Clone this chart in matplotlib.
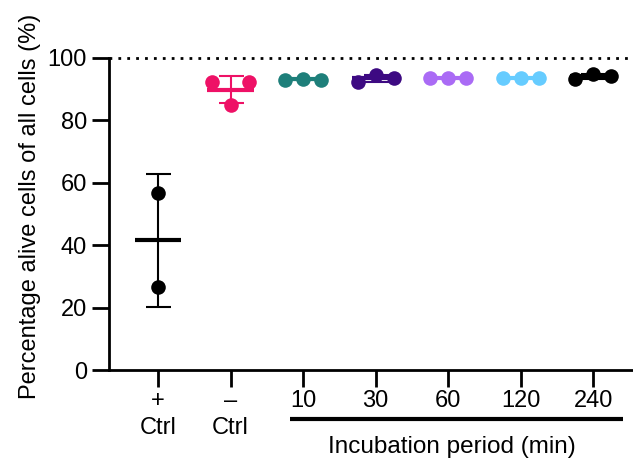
import numpy as np
import matplotlib
matplotlib.use("Agg")
import matplotlib.pyplot as plt
import matplotlib.transforms as mtransforms

plt.rcParams['font.family'] = ['Liberation Sans', 'DejaVu Sans']

# groups (x tick labels) and the individual replicate values (%)
groups = ["+\nCtrl", "\u2013\nCtrl", "10", "30", "60", "120", "240"]
values = [
    [56.7, 26.6],
    [92.4, 84.9, 92.4],
    [93.1, 93.2, 93.1],
    [92.4, 94.5, 93.5],
    [93.6, 93.6, 93.6],
    [93.5, 93.6, 93.6],
    [93.3, 94.8, 94.2],
]
colors = ["#000000", "#EE1166", "#1E7F7A", "#3D0A82", "#AA6BF5", "#66CCFF", "#000000"]

fig = plt.figure(figsize=(6.33, 4.62), dpi=100)
ax = fig.add_axes([0.1722, 0.199, 0.828, 0.6755])

for i, (vals, c) in enumerate(zip(values, colors)):
    vals = np.array(vals)
    n = len(vals)
    if n == 2:
        offs = np.zeros(n)
    else:
        offs = np.linspace(-0.25, 0.25, n)
    m = vals.mean()
    sd = vals.std(ddof=1)
    ax.errorbar(i, m, yerr=sd, color=c, capsize=9, elinewidth=1.5,
                capthick=1.5, fmt='none', zorder=2)
    ax.hlines(m, i - 0.32, i + 0.32, color=c, lw=3, zorder=2)
    ax.plot(i + offs, vals, 'o', color=c, ms=10.5, mec='none', zorder=3)

ax.axhline(100, color='black', ls=(0, (1, 2.2)), lw=2, zorder=1, clip_on=False)

ax.set_xlim(-0.676, 6.55)
ax.set_ylim(0, 100)
ax.set_yticks(range(0, 101, 20))
ax.set_xticks(range(len(groups)))
ax.set_xticklabels(groups, linespacing=1.3)
ax.tick_params(axis='both', direction='out', length=12, width=2, labelsize=17, pad=4)
ax.tick_params(axis='x', pad=2)
for s in ['top', 'right']:
    ax.spines[s].set_visible(False)
for s in ['left', 'bottom']:
    ax.spines[s].set_linewidth(2)

ax.set_ylabel("Percentage alive cells of all cells (%)", fontsize=17)
ax.yaxis.set_label_coords(-0.13, 0.525)

trans = mtransforms.blended_transform_factory(ax.transData, ax.transAxes)
ax.plot([1.82, 6.41], [-0.157, -0.157], color='black', lw=3, transform=trans,
        clip_on=False, solid_capstyle='butt')
ax.text(4.05, -0.245, "Incubation period (min)", transform=trans, ha='center',
        va='center', fontsize=17.5)

fig.savefig("out.png", dpi=100)
